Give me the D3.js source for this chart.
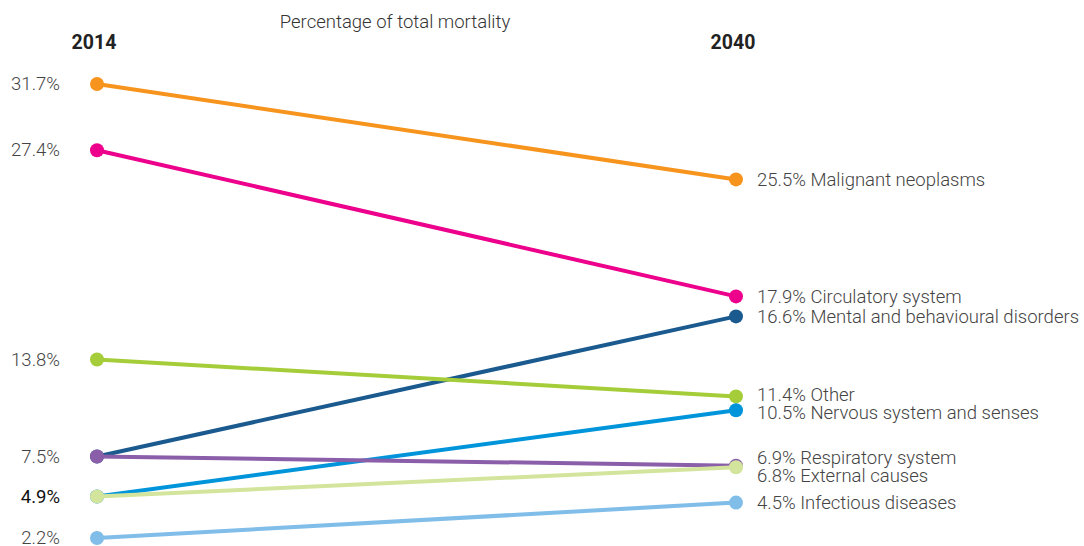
<!DOCTYPE html>
<html>
<head>
<meta charset="utf-8">
<script src="https://cdn.jsdelivr.net/npm/d3@7"></script>
<style>
  body { margin: 0; background: #fff; }
  svg text { font-family: Roboto, sans-serif; }
</style>
</head>
<body>
<div id="vis"></div>
<script>
// Data
var causes = ['Malignant neoplasms', 'Circulatory system', 'Mental and behavioural disorders', 'Other',
  'Nervous system and senses', 'Respiratory system', 'External causes', 'Infectious diseases'];
var values2014 = [31.7, 27.4, 7.5, 13.8, 4.9, 7.5, 4.9, 2.2];
var values2040 = [25.5, 17.9, 16.6, 11.4, 10.5, 6.9, 6.8, 4.5];
var colors = ['#f7941d', '#ec008c', '#1b5a8e', '#a5cd39', '#0095da', '#8a5ea9', '#d3e59c', '#80bde8'];
var years = ['2014', '2040'];

var width = 1084;
var height = 546;

var svg = d3.select('#vis')
  .append('svg')
  .attr('width', width)
  .attr('height', height);

var x = d3.scalePoint().domain(years).range([97, 736]);
var y = d3.scaleLinear().domain([2.2, 31.7]).range([538, 84]);

var rows = causes.map(function(c, i) {
  return { name: c, v0: values2014[i], v1: values2040[i], color: colors[i] };
});

// title and year headers
svg.append('text')
  .attr('x', 395).attr('y', 28)
  .attr('text-anchor', 'middle')
  .attr('font-size', 18.5).attr('font-weight', 300).attr('fill', '#333')
  .text('Percentage of total mortality');

svg.selectAll('.year')
  .data(years)
  .enter().append('text')
  .attr('class', 'year')
  .attr('x', function(d) { return x(d) - 3; })
  .attr('y', 49)
  .attr('text-anchor', 'middle')
  .attr('font-size', 19.5).attr('font-weight', 700).attr('fill', '#222')
  .text(function(d) { return d; });

// slope lines
var g = svg.selectAll('.cause')
  .data(rows)
  .enter().append('g')
  .attr('class', 'cause');

g.append('line')
  .attr('x1', x('2014')).attr('x2', x('2040'))
  .attr('y1', function(d) { return y(d.v0); })
  .attr('y2', function(d) { return y(d.v1); })
  .attr('stroke', function(d) { return d.color; })
  .attr('stroke-width', 4);

g.append('circle')
  .attr('cx', x('2014'))
  .attr('cy', function(d) { return y(d.v0); })
  .attr('r', 7)
  .attr('fill', function(d) { return d.color; });

g.append('circle')
  .attr('cx', x('2040'))
  .attr('cy', function(d) { return y(d.v1); })
  .attr('r', 7)
  .attr('fill', function(d) { return d.color; });

// left labels: one per distinct value
var leftVals = Array.from(new Set(values2014));
svg.selectAll('.left-label')
  .data(leftVals)
  .enter().append('text')
  .attr('class', 'left-label')
  .attr('x', 60)
  .attr('y', function(d) { return y(d); })
  .attr('dy', '0.33em')
  .attr('text-anchor', 'end')
  .attr('font-size', 18.5)
  .attr('font-weight', function(d) { return d === 4.9 ? 400 : 300; })
  .attr('fill', function(d) { return d === 4.9 ? '#111' : '#444'; })
  .text(function(d) { return d.toFixed(1) + '%'; });

// right labels, pushed apart so they don't collide
var labels = rows.map(function(d) { return { d: d, y: y(d.v1) }; })
  .sort(function(a, b) { return a.y - b.y; });
var minGap = 18;
for (var iter = 0; iter < 20; iter++) {
  for (var i = 1; i < labels.length; i++) {
    var gap = labels[i].y - labels[i - 1].y;
    if (gap < minGap) {
      var shift = (minGap - gap) / 2;
      labels[i - 1].y -= shift;
      labels[i].y += shift;
    }
  }
}

svg.selectAll('.right-label')
  .data(labels)
  .enter().append('text')
  .attr('class', 'right-label')
  .attr('x', 757)
  .attr('y', function(l) { return l.y; })
  .attr('dy', '0.35em')
  .attr('font-size', 18.5).attr('font-weight', 300).attr('fill', '#444')
  .text(function(l) { return l.d.v1.toFixed(1) + '% ' + l.d.name; });
</script>
</body>
</html>
